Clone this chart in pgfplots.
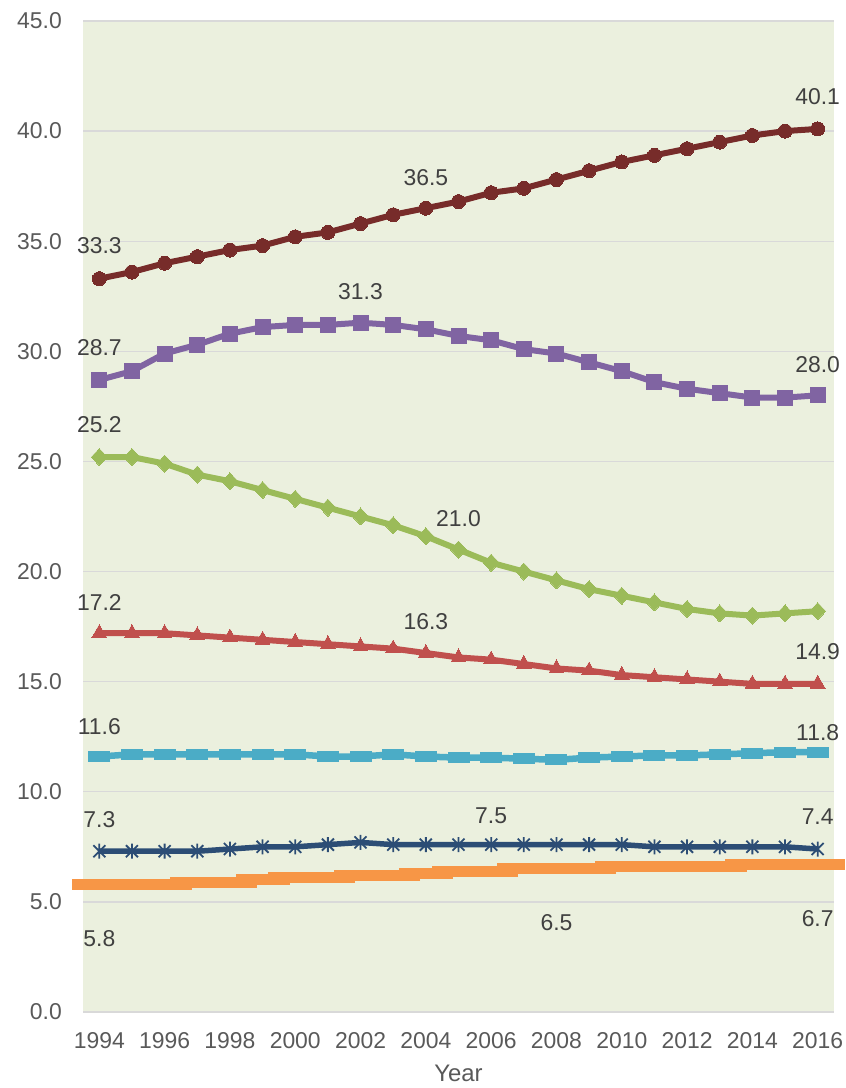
\documentclass[border=0pt]{standalone}
\usepackage{pgfplots}
\pgfplotsset{compat=1.18}
\usetikzlibrary{calc}
\usepackage{fontspec}
\setmainfont{Liberation Sans}

\definecolor{bgcol}{RGB}{235,240,222}
\definecolor{gridgray}{RGB}{217,217,217}
\definecolor{tickgray}{RGB}{89,89,89}
\definecolor{lblgray}{RGB}{64,64,64}
\definecolor{cbrown}{HTML}{772C2A}
\definecolor{cpurple}{HTML}{8064A2}
\definecolor{cgreen}{HTML}{9BBB59}
\definecolor{cred}{HTML}{C0504D}
\definecolor{ccyan}{HTML}{4BACC6}
\definecolor{cnavy}{HTML}{2C4D75}
\definecolor{corange}{HTML}{F79646}

% Excel-style star: vertical bar plus an X
\pgfdeclareplotmark{xstar}{%
  \pgfpathmoveto{\pgfqpoint{0pt}{\pgfplotmarksize}}%
  \pgfpathlineto{\pgfqpoint{0pt}{-\pgfplotmarksize}}%
  \pgfpathmoveto{\pgfqpoint{-.8\pgfplotmarksize}{.8\pgfplotmarksize}}%
  \pgfpathlineto{\pgfqpoint{.8\pgfplotmarksize}{-.8\pgfplotmarksize}}%
  \pgfpathmoveto{\pgfqpoint{-.8\pgfplotmarksize}{-.8\pgfplotmarksize}}%
  \pgfpathlineto{\pgfqpoint{.8\pgfplotmarksize}{.8\pgfplotmarksize}}%
  \pgfusepathqstroke}

\tikzset{lbl/.style={font=\fontsize{23}{27}\selectfont, text=lblgray, anchor=center, inner sep=0pt}}

\begin{document}
\begin{tikzpicture}
\begin{axis}[
  name=ax,
  scale only axis,
  width=751bp, height=991bp,
  xmin=1993.5, xmax=2016.5,
  ymin=0, ymax=45,
  clip=false,
  axis line style={draw=none},
  tick style={draw=none},
  axis background/.style={fill=bgcol},
  ymajorgrids,
  major grid style={color=gridgray, line width=1.3bp},
  ytick={0,5,...,45},
  xtick={1994,1996,...,2016},
  /pgf/number format/assume math mode=true,
  ticklabel style={font=\fontsize{23}{27}\selectfont, text=tickgray, inner sep=0pt},
  y tick label style={anchor=east, xshift=-21bp,
    /pgf/number format/.cd, fixed, fixed zerofill, precision=1},
  x tick label style={anchor=north, yshift=-20bp,
    /pgf/number format/.cd, 1000 sep={}},
  xlabel={Year},
  xlabel style={at={(axis description cs:0.5,0)}, anchor=center, yshift=-61bp,
    font=\fontsize{24}{28}\selectfont, text=tickgray},
]

% orange band (wide dash markers)
\addplot[corange, line width=8bp,
  mark=-, mark size=27bp, mark options={line width=11bp}]
coordinates {
(1994,5.8) (1995,5.8) (1996,5.8) (1997,5.9) (1998,5.9) (1999,6.0)
(2000,6.1) (2001,6.1) (2002,6.2) (2003,6.2) (2004,6.3) (2005,6.4)
(2006,6.4) (2007,6.5) (2008,6.5) (2009,6.5) (2010,6.6) (2011,6.6)
(2012,6.6) (2013,6.6) (2014,6.7) (2015,6.7) (2016,6.7)};

% navy stars
\addplot[cnavy, line width=5.5bp,
  mark=xstar, mark size=7.5bp, mark options={line width=1.8bp}]
coordinates {
(1994,7.3) (1995,7.3) (1996,7.3) (1997,7.3) (1998,7.4) (1999,7.5)
(2000,7.5) (2001,7.6) (2002,7.7) (2003,7.6) (2004,7.6) (2005,7.6)
(2006,7.6) (2007,7.6) (2008,7.6) (2009,7.6) (2010,7.6) (2011,7.5)
(2012,7.5) (2013,7.5) (2014,7.5) (2015,7.5) (2016,7.4)};

% cyan dashes
\addplot[ccyan, line width=6.5bp,
  mark=-, mark size=11bp, mark options={line width=11bp}]
coordinates {
(1994,11.6) (1995,11.7) (1996,11.7) (1997,11.7) (1998,11.7) (1999,11.7)
(2000,11.7) (2001,11.6) (2002,11.6) (2003,11.7) (2004,11.6) (2005,11.55)
(2006,11.55) (2007,11.5) (2008,11.45) (2009,11.55) (2010,11.6) (2011,11.65)
(2012,11.65) (2013,11.7) (2014,11.75) (2015,11.8) (2016,11.8)};

% red triangles
\addplot[cred, line width=6bp,
  mark=triangle*, mark size=8.5bp, mark options={line width=0pt}]
coordinates {
(1994,17.2) (1995,17.2) (1996,17.2) (1997,17.1) (1998,17.0) (1999,16.9)
(2000,16.8) (2001,16.7) (2002,16.6) (2003,16.5) (2004,16.3) (2005,16.1)
(2006,16.0) (2007,15.8) (2008,15.6) (2009,15.5) (2010,15.3) (2011,15.2)
(2012,15.1) (2013,15.0) (2014,14.9) (2015,14.9) (2016,14.9)};

% green diamonds
\addplot[cgreen, line width=6bp,
  mark=diamond*, mark size=8.5bp, mark options={line width=0pt, xscale=1.25}]
coordinates {
(1994,25.2) (1995,25.2) (1996,24.9) (1997,24.4) (1998,24.1) (1999,23.7)
(2000,23.3) (2001,22.9) (2002,22.5) (2003,22.1) (2004,21.6) (2005,21.0)
(2006,20.4) (2007,20.0) (2008,19.6) (2009,19.2) (2010,18.9) (2011,18.6)
(2012,18.3) (2013,18.1) (2014,18.0) (2015,18.1) (2016,18.2)};

% purple squares
\addplot[cpurple, line width=6bp,
  mark=square*, mark size=7.5bp, mark options={line width=0pt}]
coordinates {
(1994,28.7) (1995,29.1) (1996,29.9) (1997,30.3) (1998,30.8) (1999,31.1)
(2000,31.2) (2001,31.2) (2002,31.3) (2003,31.2) (2004,31.0) (2005,30.7)
(2006,30.5) (2007,30.1) (2008,29.9) (2009,29.5) (2010,29.1) (2011,28.6)
(2012,28.3) (2013,28.1) (2014,27.9) (2015,27.9) (2016,28.0)};

% brown circles
\addplot[cbrown, line width=6bp,
  mark=*, mark size=7bp, mark options={line width=0pt}]
coordinates {
(1994,33.3) (1995,33.6) (1996,34.0) (1997,34.3) (1998,34.6) (1999,34.8)
(2000,35.2) (2001,35.4) (2002,35.8) (2003,36.2) (2004,36.5) (2005,36.8)
(2006,37.2) (2007,37.4) (2008,37.8) (2009,38.2) (2010,38.6) (2011,38.9)
(2012,39.2) (2013,39.5) (2014,39.8) (2015,40.0) (2016,40.1)};

% data labels
\node[lbl, yshift=33bp] at (axis cs:1994,33.3) {33.3};
\node[lbl, yshift=31bp] at (axis cs:2004,36.5) {36.5};
\node[lbl, yshift=32bp] at (axis cs:2016,40.1) {40.1};
\node[lbl, yshift=32bp] at (axis cs:1994,28.7) {28.7};
\node[lbl, yshift=31bp] at (axis cs:2002,31.3) {31.3};
\node[lbl, yshift=31bp] at (axis cs:2016,28.0) {28.0};
\node[lbl, yshift=32bp] at (axis cs:1994,25.2) {25.2};
\node[lbl, yshift=31bp] at (axis cs:2005,21.0) {21.0};
\node[lbl, yshift=31bp] at (axis cs:1994,17.2) {17.2};
\node[lbl, yshift=31bp] at (axis cs:2004,16.3) {16.3};
\node[lbl, yshift=32bp] at (axis cs:2016,14.9) {14.9};
\node[lbl, yshift=30bp] at (axis cs:1994,11.6) {11.6};
\node[lbl, yshift=20bp] at (axis cs:2016,11.8) {11.8};
\node[lbl, yshift=32bp] at (axis cs:1994,7.3) {7.3};
\node[lbl, yshift=31bp] at (axis cs:2006,7.5) {7.5};
\node[lbl, yshift=32bp] at (axis cs:2016,7.4) {7.4};
\node[lbl, yshift=-54bp] at (axis cs:1994,5.8) {5.8};
\node[lbl, yshift=-54bp] at (axis cs:2008,6.5) {6.5};
\node[lbl, yshift=-54bp] at (axis cs:2016,6.7) {6.7};
\end{axis}
\pgfresetboundingbox
\path ($(ax.south west)+(-83bp,-76bp)$) rectangle ($(ax.north east)+(12bp,21bp)$);
\end{tikzpicture}
\end{document}
